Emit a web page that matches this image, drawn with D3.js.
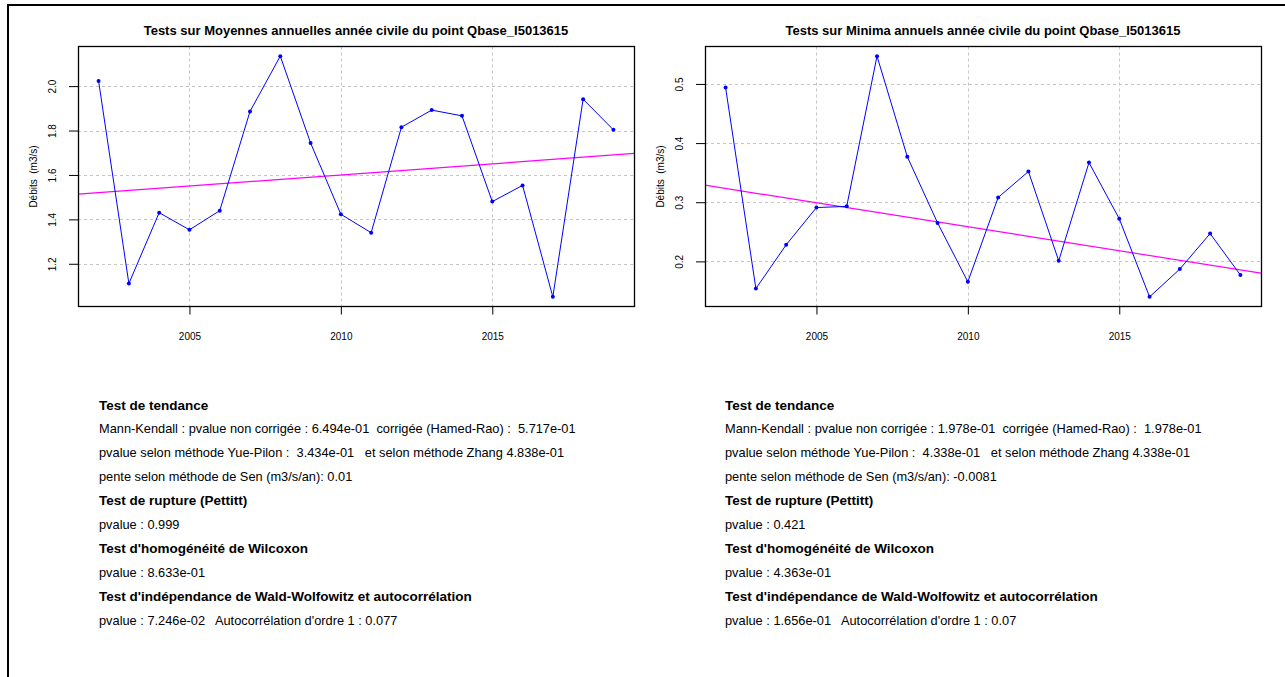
<!DOCTYPE html>
<html><head><meta charset="utf-8">
<script src="https://cdn.jsdelivr.net/npm/d3@7"></script>
<style>
body{margin:0;background:#fff}
svg{display:block}
text{font-family:"Liberation Sans",Arial,sans-serif;fill:#000}
</style>
</head><body>
<svg id="chart" width="1285" height="677"></svg>
<script>
// ---- data ----
const years = [2002,2003,2004,2005,2006,2007,2008,2009,2010,2011,2012,2013,2014,2015,2016,2017,2018,2019];
const meanValues = [2.023,1.111,1.430,1.353,1.439,1.886,2.135,1.744,1.423,1.340,1.815,1.892,1.866,1.480,1.553,1.051,1.941,1.803];
const minValues = [0.494,0.154,0.228,0.291,0.293,0.547,0.377,0.265,0.1655,0.308,0.352,0.201,0.367,0.272,0.140,0.187,0.247,0.177];
const xTicks = [2005,2010,2015];
const meanYTicks = [1.2,1.4,1.6,1.8,2.0];
const minYTicks = [0.2,0.3,0.4,0.5];
const senSlopes = [0.01,-0.0081];
const trendAt2010 = [1.6,0.2585];
const titles = [
  "Tests sur Moyennes annuelles année civile du point Qbase_I5013615",
  "Tests sur Minima annuels année civile du point Qbase_I5013615"
];
const yLabel = "Débits  (m3/s)";
const meanTextLines = [
  ["Test de tendance", true],
  ["Mann-Kendall : pvalue non corrigée : 6.494e-01  corrigée (Hamed-Rao) :  5.717e-01", false],
  ["pvalue selon méthode Yue-Pilon :  3.434e-01   et selon méthode Zhang 4.838e-01", false],
  ["pente selon méthode de Sen (m3/s/an): 0.01", false],
  ["Test de rupture (Pettitt)", true],
  ["pvalue : 0.999", false],
  ["Test d'homogénéité de Wilcoxon", true],
  ["pvalue : 8.633e-01", false],
  ["Test d'indépendance de Wald-Wolfowitz et autocorrélation", true],
  ["pvalue : 7.246e-02   Autocorrélation d'ordre 1 : 0.077", false]
];
const minTextLines = [
  ["Test de tendance", true],
  ["Mann-Kendall : pvalue non corrigée : 1.978e-01  corrigée (Hamed-Rao) :  1.978e-01", false],
  ["pvalue selon méthode Yue-Pilon :  4.338e-01   et selon méthode Zhang 4.338e-01", false],
  ["pente selon méthode de Sen (m3/s/an): -0.0081", false],
  ["Test de rupture (Pettitt)", true],
  ["pvalue : 0.421", false],
  ["Test d'homogénéité de Wilcoxon", true],
  ["pvalue : 4.363e-01", false],
  ["Test d'indépendance de Wald-Wolfowitz et autocorrélation", true],
  ["pvalue : 1.656e-01   Autocorrélation d'ordre 1 : 0.07", false]
];

// ---- layout ----
const svg = d3.select("#chart");
const panels = [
  {left:78, right:634, values:meanValues, yTicks:meanYTicks, slope:senSlopes[0], c:trendAt2010[0], title:titles[0], lines:meanTextLines, textX:99},
  {left:705, right:1261, values:minValues, yTicks:minYTicks, slope:senSlopes[1], c:trendAt2010[1], title:titles[1], lines:minTextLines, textX:725}
];
const boxTop = 46.5, boxBottom = 306.5;

function padExtent(ext){ const d=(ext[1]-ext[0])*0.04; return [ext[0]-d, ext[1]+d]; }

// outer frame
svg.append("line").attr("x1",7).attr("x2",1285).attr("y1",5).attr("y2",5).attr("stroke","#000").attr("stroke-width",2);
svg.append("line").attr("x1",8).attr("x2",8).attr("y1",4).attr("y2",677).attr("stroke","#000").attr("stroke-width",2);

panels.forEach(p => {
  const x = d3.scaleLinear().domain(padExtent(d3.extent(years))).range([p.left, p.right]);
  const y = d3.scaleLinear().domain(padExtent(d3.extent(p.values))).range([boxBottom, boxTop]);
  const g = svg.append("g");

  // grid
  g.selectAll(".gx").data(xTicks).join("line")
    .attr("x1",d=>Math.round(x(d))+0.5).attr("x2",d=>Math.round(x(d))+0.5)
    .attr("y1",boxTop).attr("y2",boxBottom)
    .attr("stroke","#c4c4c4").attr("stroke-dasharray","3,3");
  g.selectAll(".gy").data(p.yTicks).join("line")
    .attr("y1",d=>Math.round(y(d))+0.5).attr("y2",d=>Math.round(y(d))+0.5)
    .attr("x1",p.left).attr("x2",p.right)
    .attr("stroke","#c4c4c4").attr("stroke-dasharray","3,3");

  // trend line (clipped to box)
  const clipId = "clip"+p.left;
  svg.append("clipPath").attr("id",clipId).append("rect")
    .attr("x",p.left).attr("y",boxTop).attr("width",p.right-p.left).attr("height",boxBottom-boxTop);
  const xd = x.domain();
  g.append("line").attr("clip-path",`url(#${clipId})`)
    .attr("x1",x(xd[0])).attr("y1",y(p.c+p.slope*(xd[0]-2010)))
    .attr("x2",x(xd[1])).attr("y2",y(p.c+p.slope*(xd[1]-2010)))
    .attr("stroke","#ff00ff").attr("stroke-width",1.2);

  // series
  const pts = years.map((yr,i)=>[yr,p.values[i]]);
  g.append("path").datum(pts)
    .attr("d", d3.line().x(d=>x(d[0])).y(d=>y(d[1])))
    .attr("fill","none").attr("stroke","#0000ff").attr("stroke-width",1);
  g.selectAll(".pt").data(pts).join("circle")
    .attr("cx",d=>x(d[0])).attr("cy",d=>y(d[1])).attr("r",2).attr("fill","#0000ff");

  // box
  g.append("rect").attr("x",p.left+0.5).attr("y",boxTop).attr("width",p.right-p.left).attr("height",boxBottom-boxTop)
    .attr("fill","none").attr("stroke","#000").attr("stroke-width",1.3);

  // x axis
  const xa = g.append("g").attr("transform",`translate(0,${boxBottom})`)
    .call(d3.axisBottom(x).tickValues(xTicks).tickFormat(d3.format("d")).tickSize(8).tickPadding(18));
  xa.select(".domain").remove();
  xa.selectAll("line").attr("stroke","#000");
  xa.selectAll("text").attr("font-size",10).attr("font-family","Liberation Sans, Arial, sans-serif");

  // y axis
  const ya = g.append("g").attr("transform",`translate(${p.left},0)`)
    .call(d3.axisLeft(y).tickValues(p.yTicks).tickFormat(d3.format(".1f")).tickSize(9).tickPadding(0));
  ya.select(".domain").remove();
  ya.selectAll("line").attr("stroke","#000");
  ya.selectAll("text").attr("font-size",10).attr("font-family","Liberation Sans, Arial, sans-serif")
    .attr("text-anchor","middle").attr("dy",null).attr("x",null)
    .attr("transform","translate(-26,0) rotate(-90)").attr("dominant-baseline","central");

  // y label
  g.append("text").attr("transform",`translate(${p.left-45},${(boxTop+boxBottom)/2}) rotate(-90)`)
    .attr("text-anchor","middle").attr("dominant-baseline","central").attr("font-size",10)
    .style("white-space","pre").text(yLabel);

  // title
  g.append("text").attr("x",(p.left+p.right)/2).attr("y",30).attr("text-anchor","middle")
    .attr("dominant-baseline","central").attr("font-size",13).attr("font-weight","bold").text(p.title);

  // text block
  g.selectAll(".tl").data(p.lines).join("text")
    .attr("x",p.textX).attr("y",(d,i)=>405+i*23.9)
    .attr("dominant-baseline","central")
    .attr("font-size",d=>d[1]?13.5:12.8).attr("font-weight",d=>d[1]?"bold":"normal")
    .style("white-space","pre").text(d=>d[0]);
});
</script>
</body></html>
